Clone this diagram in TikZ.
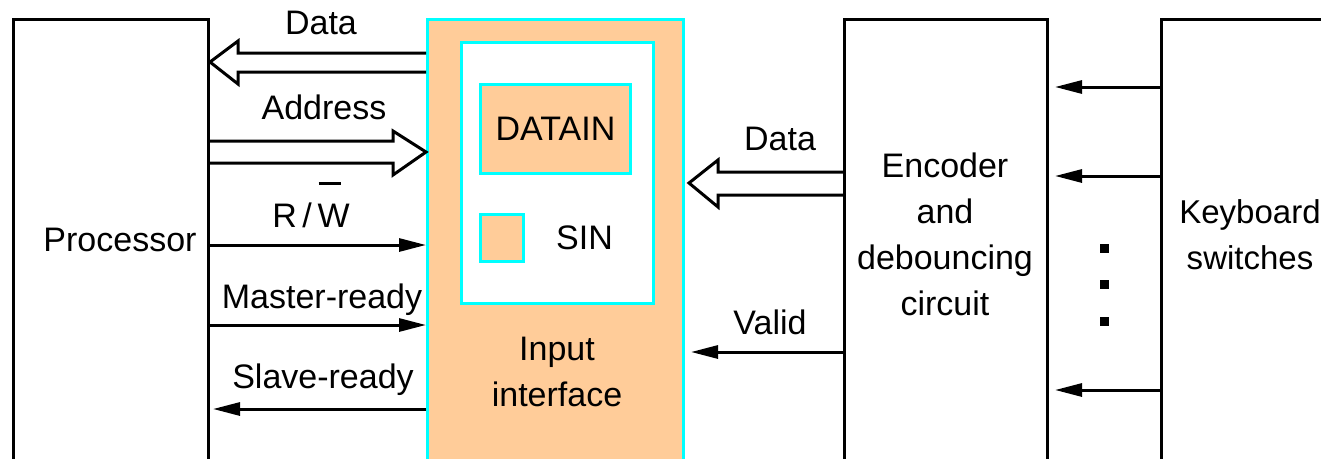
\documentclass[tikz,border=0pt]{standalone}
\usepackage{fontspec}
\setmainfont{Liberation Sans}
\usetikzlibrary{arrows.meta}
\usetikzlibrary{positioning, calc}
\definecolor{peach}{RGB}{255,204,153}
\definecolor{cyanline}{RGB}{0,255,255}

\begin{document}
\begin{tikzpicture}[x=1pt,y=-1pt,line join=miter,
  txt/.style={font=\fontsize{34}{46}\selectfont,inner sep=0pt,align=center},
  blk/.style={draw=black,line width=3pt,fill=white,minimum width=#1,minimum height=444pt,anchor=north west,inner sep=0pt,txt},
  reg/.style={draw=cyanline,line width=3pt,fill=peach,anchor=north west,inner sep=0pt,txt},
  sig/.style={line width=3pt,-{Triangle[length=27pt,width=13pt]}},
  bus/.style={line width=3pt}]
\useasboundingbox (0,0) rectangle (1321,458);
\clip (0,0) rectangle (1321,458);
\fill[white] (0,0) rectangle (1321,458);

% blocks
\node[blk=195pt] (proc) at (12,18) {};
\node[txt,anchor=base] (proclbl) at (120,251) {Processor};
\node[reg,minimum width=256pt,minimum height=444pt] (iface) at (426,18) {};
\node[reg,fill=white,minimum width=192pt,minimum height=261pt] (inbox) at (460,41) {};
\node[reg,minimum width=150pt,minimum height=89pt] (datain) at (479,83) {DATAIN};
\node[reg,minimum width=43pt,minimum height=47pt] (sin) at (479,213) {};
\node[txt,right=31pt of sin] (sinlbl) {SIN};
\node[txt] (ifacelbl) at (557,372) {Input\\interface};
\node[blk=203pt] (enc) at (843,18) {};
\node[txt] (enclbl) at (945,234) {Encoder\\and\\debouncing\\circuit};
\node[blk=184pt] (kbd) at (1160,18) {};
\node[txt,font=\fontsize{33}{46}\selectfont] (kbdlbl) at (1250,235) {Keyboard\\switches};

% processor side
\draw[bus] (iface.west |- 0,53) -- (238,53) -- (238,41) -- (proc.east |- 0,62)
  -- (238,84) -- (238,72) -- (iface.west |- 0,72);
\node[txt,anchor=base] (datalbl) at (321,34) {Data};
\draw[bus] (proc.east |- 0,141) -- (393,141) -- (393,131) -- (iface.west |- 0,152)
  -- (393,175) -- (393,163) -- (proc.east |- 0,163);
\node[txt,anchor=base] (addrlbl) at (324,119) {Address};
\draw[sig] (proc.east |- 0,245) -- (iface.west |- 0,245);
\node[txt,anchor=base] (rwlbl) at (311,227) {R\,/\,\rlap{\hspace{1pt}\raisebox{42pt}{\rule{22pt}{3pt}}}W};
\draw[sig] (proc.east |- 0,325) -- (iface.west |- 0,325);
\node[txt,anchor=base] (mrdylbl) at (322,308) {Master-ready};
\draw[sig] (iface.west |- 0,409) -- ($(proc.east |- 0,409)+(3,0)$);
\node[txt,anchor=base] (srdylbl) at (323,388) {Slave-ready};

% encoder side
\draw[bus] (enc.west |- 0,172) -- (718,172) -- (718,160) -- ($(iface.east |- 0,183)+(4,0)$)
  -- (718,207) -- (718,195) -- (enc.west |- 0,195);
\node[txt,anchor=base] (kdatalbl) at (780,150) {Data};
\draw[sig] (enc.west |- 0,352) -- ($(iface.east |- 0,352)+(6,0)$);
\node[txt,anchor=base] (validlbl) at (770,334) {Valid};

% keyboard lines
\foreach \y in {87,176,390}
  \draw[sig] (kbd.west |- 0,\y) -- ($(enc.east |- 0,\y)+(6,0)$);
\foreach \y in {248,284,321}
  \fill (1099.5,\y-4.5) rectangle ++(9,9);

\end{tikzpicture}
\end{document}
